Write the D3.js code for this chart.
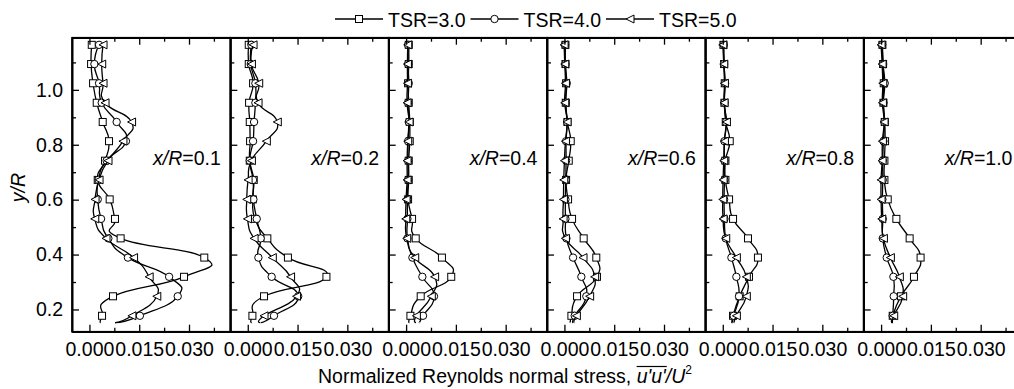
<!DOCTYPE html>
<html>
<head>
<meta charset="utf-8" />
<style>
	body { margin: 0; background: #fff; }
	svg { font-family: "Liberation Sans", Arial, sans-serif; }
	.axis path, .axis line { stroke: #000; }
	.axis path { stroke-width: 1.6; }
	.axis line { stroke-width: 1.3; }
</style>
</head>
<body>
<svg id="chart" width="1014" height="389"></svg>
<script src="https://cdn.jsdelivr.net/npm/d3@7"></script>
<script>
// stations downstream of the rotor, x/R
const stations = ['0.1', '0.2', '0.4', '0.6', '0.8', '1.0'];
const seriesNames = ['TSR=3.0', 'TSR=4.0', 'TSR=5.0'];

// measurement heights y/R (bottom to top)
const yR = [0.177, 0.248, 0.319, 0.389, 0.459, 0.530, 0.601, 0.672, 0.742, 0.813, 0.883, 0.953, 1.024, 1.094, 1.164];
// the curves run a little below the last symbol
const tailY = 0.152;

// u'u'/U^2, one row per station, values follow yR
const tsr3 = [
	[0.0038, 0.0071, 0.0285, 0.0346, 0.0094, 0.0077, 0.0061, 0.0025, 0.0047, 0.0059, 0.0040, 0.0022, 0.0011, 0.0005, 0.0007],
	[0.0014, 0.0049, 0.0237, 0.0121, 0.0059, 0.0022, 0.0015, 0.0018, 0.0006, 0.0007, 0.0006, 0.0004, 0.0016, 0.0003, 0.0003],
	[0.0013, 0.0044, 0.0136, 0.0108, 0.0029, 0.0018, 0.0006, 0.0008, 0.0008, 0.0011, 0.0011, 0.0008, 0.0006, 0.0008, 0.0008],
	[0.0021, 0.0038, 0.0098, 0.0096, 0.0058, 0.0023, 0.0011, 0.0005, 0.0013, 0.0019, 0.0009, 0.0004, 0.0005, 0.0003, 0.0003],
	[0.0031, 0.0051, 0.0079, 0.0106, 0.0076, 0.0031, 0.0019, 0.0008, 0.0008, 0.0021, 0.0009, 0.0005, 0.0006, 0.0004, 0.0002],
	[0.0035, 0.0060, 0.0099, 0.0119, 0.0086, 0.0046, 0.0020, 0.0010, 0.0010, 0.0012, 0.0011, 0.0007, 0.0008, 0.0006, 0.0004]
];
const tsr4 = [
	[0.0152, 0.0266, 0.0240, 0.0116, 0.0057, 0.0035, 0.0025, 0.0027, 0.0052, 0.0110, 0.0082, 0.0037, 0.0029, 0.0015, 0.0029],
	[0.0079, 0.0152, 0.0072, 0.0032, 0.0039, 0.0027, 0.0017, 0.0016, 0.0006, 0.0016, 0.0019, 0.0023, 0.0023, 0.0009, 0.0011],
	[0.0051, 0.0084, 0.0049, 0.0019, 0.0004, 0.0004, 0.0004, 0.0006, 0.0006, 0.0006, 0.0008, 0.0006, 0.0008, 0.0006, 0.0006],
	[0.0031, 0.0066, 0.0051, 0.0026, 0.0006, 0.0003, 0.0003, 0.0004, 0.0005, 0.0005, 0.0008, 0.0004, 0.0007, 0.0003, 0.0002],
	[0.0033, 0.0049, 0.0041, 0.0026, 0.0009, 0.0005, 0.0004, 0.0005, 0.0005, 0.0005, 0.0010, 0.0005, 0.0007, 0.0004, 0.0003],
	[0.0035, 0.0038, 0.0037, 0.0017, 0.0005, 0.0005, 0.0004, 0.0005, 0.0005, 0.0007, 0.0010, 0.0007, 0.0011, 0.0006, 0.0003]
];
const tsr5 = [
	[0.0128, 0.0203, 0.0180, 0.0133, 0.0050, 0.0016, 0.0017, 0.0029, 0.0056, 0.0101, 0.0127, 0.0047, 0.0041, 0.0037, 0.0041],
	[0.0049, 0.0147, 0.0129, 0.0074, 0.0019, -0.0001, -0.0003, 0.0001, 0.0011, 0.0056, 0.0089, 0.0031, 0.0033, 0.0011, 0.0016],
	[0.0031, 0.0076, 0.0086, 0.0026, 0.0002, -0.0001, 0.0000, 0.0003, 0.0003, 0.0005, 0.0009, 0.0003, 0.0004, 0.0004, 0.0005],
	[0.0036, 0.0076, 0.0091, 0.0056, 0.0003, -0.0004, -0.0003, -0.0002, 0.0000, 0.0003, 0.0008, 0.0001, 0.0003, 0.0001, -0.0001],
	[0.0041, 0.0071, 0.0071, 0.0041, 0.0009, 0.0001, 0.0000, 0.0001, 0.0003, 0.0005, 0.0011, 0.0004, 0.0005, 0.0003, 0.0000],
	[0.0038, 0.0065, 0.0055, 0.0028, 0.0007, 0.0002, 0.0000, 0.0000, 0.0003, 0.0004, 0.0009, 0.0004, 0.0005, 0.0003, 0.0000]
];
const tail3 = [0.0034, 0.0012, 0.0010, 0.0018, 0.0028, 0.0033];
const tail4 = [0.0077, 0.0040, 0.0040, 0.0026, 0.0030, 0.0033];
const tail5 = [0.0077, 0.0038, 0.0030, 0.0030, 0.0035, 0.0036];

const xMajor = [0, 0.015, 0.030];
const xMinor = [0.0075, 0.0225, 0.0375];
const yMajor = [0.2, 0.4, 0.6, 0.8, 1.0];
const yMinor = [0.3, 0.5, 0.7, 0.9, 1.1];

const svg = d3.select('#chart');
const fs = 19.5;
const plotLeft = 72, plotRight = 1022, plotTop = 37.7, plotBottom = 331.7;
const panelW = (plotRight - plotLeft) / stations.length;

const y = d3.scaleLinear().domain([0.119, 1.19]).range([plotBottom, plotTop]);
const x = d3.scaleLinear().domain([-0.00525, 0.04245]).range([0, panelW]);

const allSeries = [tsr3, tsr4, tsr5];
const allTails = [tail3, tail4, tail5];
const markers = ['square', 'circle', 'triangle'];

function drawMarker(sel, kind) {
	if (kind === 'square') {
		sel.append('rect').attr('x', -3.5).attr('y', -3.5).attr('width', 7).attr('height', 7);
	} else if (kind === 'circle') {
		sel.append('circle').attr('r', 3.7);
	} else {
		sel.append('path').attr('d', 'M-4,0L4,-4L4,4Z');
	}
	sel.attr('fill', '#fff').attr('stroke', '#000').attr('stroke-width', 1);
}

// Origin-style spline: a loose cardinal curve that swings past sharp peaks
const line = d3.line()
	.x(d => x(d[0]))
	.y(d => y(d[1]))
	.curve(d3.curveCardinal.tension(-0.6));

stations.forEach((st, p) => {
	const g = svg.append('g').attr('transform', `translate(${plotLeft + p * panelW},0)`);

	g.append('clipPath').attr('id', 'clip' + p)
		.append('rect').attr('x', 0).attr('y', plotTop).attr('width', panelW).attr('height', plotBottom - plotTop);

	const plot = g.append('g').attr('clip-path', `url(#clip${p})`);

	allSeries.forEach((ser, s) => {
		const pts = [[allTails[s][p], tailY]].concat(ser[p].map((v, i) => [v, yR[i]]));
		plot.append('path')
			.attr('d', line(pts))
			.attr('fill', 'none')
			.attr('stroke', '#000')
			.attr('stroke-width', 1.3);
		plot.selectAll(null)
			.data(ser[p].map((v, i) => [v, yR[i]]))
			.join('g')
			.attr('transform', d => `translate(${x(d[0])},${y(d[1])})`)
			.call(sel => drawMarker(sel, markers[s]));
	});

	// frame
	g.append('rect')
		.attr('x', 0).attr('y', plotTop)
		.attr('width', panelW).attr('height', plotBottom - plotTop)
		.attr('fill', 'none').attr('stroke', '#000').attr('stroke-width', 1.6);

	// y ticks, pointing into the panel
	g.append('g').attr('class', 'axis')
		.call(d3.axisLeft(y).tickValues(yMajor).tickSize(-7).tickSizeOuter(0).tickPadding(9)
			.tickFormat(p === 0 ? d3.format('.1f') : () => ''))
		.call(a => a.selectAll('text').attr('font-size', fs).attr('fill', '#000'));
	g.append('g').attr('class', 'axis')
		.call(d3.axisLeft(y).tickValues(yMinor).tickSize(-4).tickSizeOuter(0).tickFormat(() => ''));

	// x ticks bottom
	g.append('g').attr('class', 'axis').attr('transform', `translate(0,${plotBottom})`)
		.call(d3.axisBottom(x).tickValues(xMajor).tickSize(-7).tickSizeOuter(0).tickPadding(10)
			.tickFormat(d3.format('.3f')))
		.call(a => a.selectAll('text').attr('font-size', fs).attr('fill', '#000'));
	g.append('g').attr('class', 'axis').attr('transform', `translate(0,${plotBottom})`)
		.call(d3.axisBottom(x).tickValues(xMinor).tickSize(-4).tickSizeOuter(0).tickFormat(() => ''));

	// x ticks top
	g.append('g').attr('class', 'axis').attr('transform', `translate(0,${plotTop})`)
		.call(d3.axisTop(x).tickValues(xMajor).tickSize(-7).tickSizeOuter(0).tickFormat(() => ''));
	g.append('g').attr('class', 'axis').attr('transform', `translate(0,${plotTop})`)
		.call(d3.axisTop(x).tickValues(xMinor).tickSize(-4).tickSizeOuter(0).tickFormat(() => ''));

	// station label
	const lab = g.append('text')
		.attr('x', 81).attr('y', 165)
		.attr('font-size', fs);
	lab.append('tspan').attr('font-style', 'italic').text('x');
	lab.append('tspan').attr('font-style', 'italic').text('/');
	lab.append('tspan').attr('font-style', 'italic').text('R');
	lab.append('tspan').text('=' + st);
});

// axis fonts: d3 sets its own family on axis groups
svg.selectAll('.axis').attr('font-family', null);

// y axis title
const yt = svg.append('text')
	.attr('transform', 'translate(25,187.5) rotate(-90)')
	.attr('text-anchor', 'middle')
	.attr('font-size', fs);
yt.append('tspan').attr('font-style', 'italic').text('y');
yt.append('tspan').attr('font-style', 'italic').text('/');
yt.append('tspan').attr('font-style', 'italic').text('R');

// x axis title
const titleHead = 'Normalized Reynolds normal stress, ';
const xt = svg.append('text')
	.attr('x', 505).attr('y', 383)
	.attr('text-anchor', 'middle')
	.attr('font-size', fs);
xt.append('tspan').text(titleHead);
xt.append('tspan').attr('font-style', 'italic').text("u'u'");
xt.append('tspan').attr('font-style', 'italic').text('/U');
xt.append('tspan').attr('font-size', 12).attr('dy', -9).text('2');

// overline across u'u'
const xtNode = xt.node();
const e0 = xtNode.getExtentOfChar(titleHead.length);
const e1 = xtNode.getExtentOfChar(titleHead.length + 3);
svg.append('line')
	.attr('x1', e0.x).attr('x2', e1.x + e1.width + 1)
	.attr('y1', e0.y + 1.5).attr('y2', e0.y + 1.5)
	.attr('stroke', '#000').attr('stroke-width', 1.2);

// legend
let lx = 335;
const ly = 19;
seriesNames.forEach((name, s) => {
	const lg = svg.append('g');
	lg.append('line')
		.attr('x1', lx).attr('x2', lx + 48).attr('y1', ly).attr('y2', ly)
		.attr('stroke', '#000').attr('stroke-width', 1.3);
	lg.append('g').attr('transform', `translate(${lx + 24},${ly})`)
		.call(sel => drawMarker(sel, markers[s]));
	const t = lg.append('text')
		.attr('x', lx + 53).attr('y', ly + 7.5)
		.attr('font-size', fs)
		.text(name);
	lx += 53 + t.node().getComputedTextLength() + 5;
});
</script>
</body>
</html>
